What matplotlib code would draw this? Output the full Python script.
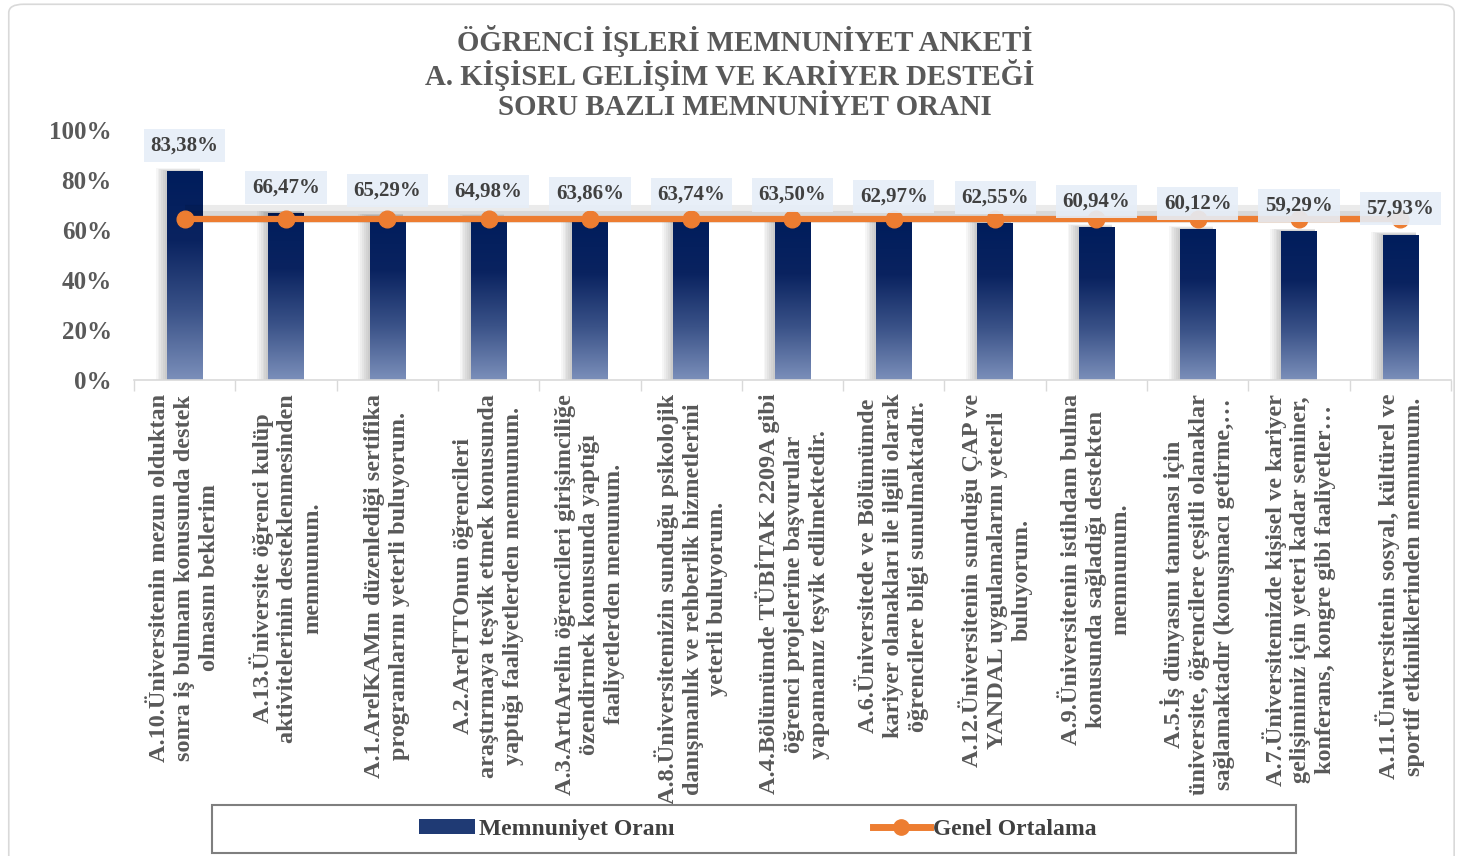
import numpy as np
import matplotlib
matplotlib.use("Agg")
import matplotlib.pyplot as plt
from matplotlib.patches import Rectangle, Patch, FancyBboxPatch
from matplotlib.lines import Line2D
from matplotlib.ticker import FuncFormatter

# veriler
sorular = [
    "A.10.Üniversitenin mezun olduktan\nsonra iş bulmam konusunda destek\nolmasını beklerim",
    "A.13.Üniversite öğrenci kulüp\naktivitelerinin desteklenmesinden\nmemnunum.",
    "A.1.ArelKAMın düzenlediği sertifika\nprogramlarını yeterli buluyorum.",
    "A.2.ArelTTOnun öğrencileri\naraştırmaya teşvik etmek konusunda\nyaptığı faaliyetlerden memnunum.",
    "A.3.ArtıArelin öğrencileri girişimciliğe\nözendirmek konusunda yaptığı\nfaaliyetlerden menunum.",
    "A.8.Üniversitemizin sunduğu psikolojik\ndanışmanlık ve rehberlik hizmetlerini\nyeterli buluyorum.",
    "A.4.Bölümümde TÜBİTAK 2209A gibi\nöğrenci projelerine başvurular\nyapamamız teşvik edilmektedir.",
    "A.6.Üniversitede ve Bölümümde\nkariyer olanakları ile ilgili olarak\nöğrencilere bilgi sunulmaktadır.",
    "A.12.Üniversitenin sunduğu ÇAP ve\nYANDAL uygulamalarını yeterli\nbuluyorum.",
    "A.9.Üniversitenin istihdam bulma\nkonusunda sağladığı destekten\nmemnunum.",
    "A.5.İş dünyasını tanıması için\nüniversite, öğrencilere çeşitli olanaklar\nsağlamaktadır (konuşmacı getirme,…",
    "A.7.Üniversitemizde kişisel ve kariyer\ngelişimimiz için yeteri kadar seminer,\nkonferans, kongre gibi faaliyetler…",
    "A.11.Üniversitenin sosyal, kültürel ve\nsportif etkinliklerinden memnunum.",
]
memnuniyet = [83.38, 66.47, 65.29, 64.98, 63.86, 63.74, 63.50, 62.97, 62.55,
              60.94, 60.12, 59.29, 57.93]
genel_ortalama = [64.23] * len(memnuniyet)
y_ticks = [0, 20, 40, 60, 80, 100]

baslik = ("ÖĞRENCİ İŞLERİ MEMNUNİYET ANKETİ\n"
          "A. KİŞİSEL GELİŞİM VE KARİYER DESTEĞİ    \n"
          "SORU BAZLI MEMNUNİYET ORANI")

serif = "Liberation Serif"
gri = "#595959"
koyu = "#404040"
turuncu = "#ED7D31"

fig = plt.figure(figsize=(14.6, 8.56), dpi=100)
ax = fig.add_axes([0.0918, 0.5561, 0.902, 0.292])

x = np.arange(len(memnuniyet))
w = 0.35

# gradyan renk (üstte koyu lacivert, altta açık)
grad = np.linspace(0, 1, 256).reshape(-1, 1)
cmap = matplotlib.colors.LinearSegmentedColormap.from_list(
    "lacivert", ["#7B8FBA", "#3A5288", "#0A2360", "#001D5C"])

for xi, v in zip(x, memnuniyet):
    # yumuşak gölge (sol tarafta)
    for k in range(6):
        s = k * 0.018
        ax.add_patch(Rectangle((xi - w / 2 - 0.02 - s, 0), w + s, v + 0.4 + s * 10,
                               facecolor="black", edgecolor="none", alpha=0.035, zorder=1))
    ax.imshow(grad, cmap=cmap, aspect="auto", origin="lower",
              extent=[xi - w / 2, xi + w / 2, 0, v], zorder=2)

# çizgi gölgesi
ax.plot(x, np.array(genel_ortalama) + 2.2, color="black", lw=13, alpha=0.08,
        zorder=2.5, solid_capstyle="butt")
ax.plot(x, np.array(genel_ortalama) + 1.5, color="black", lw=8, alpha=0.08,
        zorder=2.5, solid_capstyle="butt")
ax.plot(x, genel_ortalama, color=turuncu, lw=4.5, marker="o", markersize=12,
        zorder=3)

for xi, v in zip(x, memnuniyet):
    ax.annotate(f"{v:.2f}%".replace(".", ","), (xi, v), xytext=(0, 19),
                textcoords="offset points", ha="center", va="center",
                fontsize=15, fontweight="bold", family=serif, color=koyu,
                bbox=dict(boxstyle="square,pad=0.32", fc="#E6EEF8", ec="none", alpha=0.9),
                zorder=4)

ax.set_xlim(-0.5, len(memnuniyet) - 0.5)
ax.set_ylim(0, 100)
ax.set_yticks(y_ticks)
ax.yaxis.set_major_formatter(FuncFormatter(lambda v, p: f"{v:.0f}%"))
ax.set_xticks(x)
ax.set_xticklabels(sorular, rotation=90, ha="center", va="top",
                   multialignment="center", linespacing=1.24)
ax.set_xticks(np.arange(-0.5, len(memnuniyet)), minor=True)
ax.tick_params(axis="x", which="major", length=0, pad=10)
ax.tick_params(axis="x", which="minor", length=8, color="#D9D9D9", width=1)
ax.tick_params(axis="y", length=0, pad=16)
for lab in ax.get_xticklabels():
    lab.set_fontsize(17.5)
    lab.set_fontweight("bold")
    lab.set_family(serif)
    lab.set_color(gri)
for lab in ax.get_yticklabels():
    lab.set_fontsize(18)
    lab.set_fontweight("bold")
    lab.set_family(serif)
    lab.set_color(gri)
for s in ["top", "right", "left"]:
    ax.spines[s].set_visible(False)
ax.spines["bottom"].set_color("#D9D9D9")
ax.spines["bottom"].set_linewidth(1.2)

fig.text(0.51, 0.971, baslik, ha="center", va="top", fontsize=20.8,
         fontweight="bold", family=serif, color=gri, linespacing=1.1)

# lejant
handles = [Patch(facecolor="#1F3A74", edgecolor="none"),
           Line2D([0], [0], color=turuncu, lw=5, marker="o", markersize=11)]
leg = fig.legend(handles, ["Memnuniyet Oranı", "Genel Ortalama"],
                 loc="center", bbox_to_anchor=(0.519, 0.0315),
                 ncol=2, frameon=False, handlelength=2.4, handleheight=0.6,
                 handletextpad=0.15, columnspacing=8.4,
                 prop=dict(family=serif, weight="bold", size=17))
for t in leg.get_texts():
    t.set_color(koyu)
fig.patches.append(Rectangle((212 / 1460, 3 / 856), 1084 / 1460, 48 / 856,
                             transform=fig.transFigure, fc="none", ec="#7F7F7F", lw=1.5))

# dış çerçeve
fig.patches.append(FancyBboxPatch((0.006, -0.02), 0.99, 1.015, boxstyle="round,pad=0,rounding_size=0.01",
                                  transform=fig.transFigure, fc="none", ec="#D9D9D9", lw=1.2))

fig.savefig("out.png", dpi=100)
